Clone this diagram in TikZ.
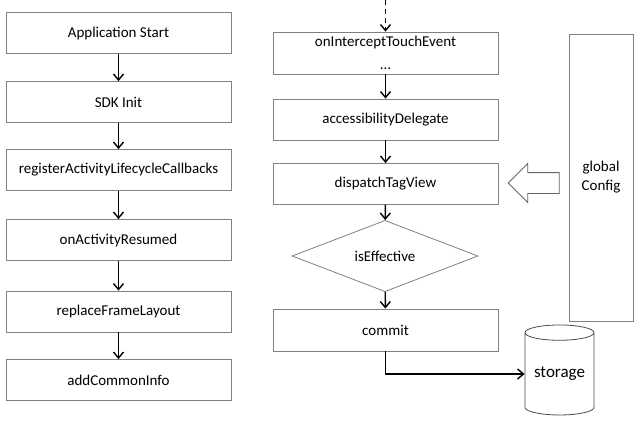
\documentclass[tikz,border=0pt]{standalone}
\usepackage{fontspec}
\setmainfont{Carlito}
\usepackage{tikz}
\usetikzlibrary{arrows.meta,shapes.geometric,shapes.arrows}
\tikzset{stepbox/.style={draw=black!50,line width=0.8pt,minimum width=225pt,minimum height=41pt,inner sep=0pt,font=\fontsize{15}{17}\selectfont}}
\tikzset{decide/.style={diamond,draw=black!50,line width=0.8pt,minimum width=186pt,minimum height=60pt,inner sep=0pt,font=\fontsize{15}{17}\selectfont}}
\tikzset{store/.style={cylinder,shape border rotate=90,draw=black!70,line width=0.8pt,aspect=0.3,minimum width=69pt,minimum height=90pt,inner sep=0pt,font=\fontsize{17}{19}\selectfont}}
\tikzset{config/.style={draw=black!50,line width=0.8pt,minimum width=64pt,minimum height=287pt,inner sep=0pt,align=center,font=\fontsize{15}{19}\selectfont}}
\tikzset{bigarrow/.style={single arrow,shape border rotate=180,draw=black!60,line width=0.8pt,minimum height=51pt,text height=0pt,text depth=0pt,inner xsep=0pt,inner ysep=10pt,single arrow head extend=9pt}}
\tikzset{flow/.style={-{Straight Barb[length=6pt,width=10pt]},line width=1.4pt}}

\begin{document}
\begin{tikzpicture}[x=1pt,y=-1pt]
\useasboundingbox (0,0) rectangle (640,421);
% left column
\node (start) at (118.5,33)[stepbox]{Application Start};
\node (sdk) at (118.5,102)[stepbox]{SDK Init};
\node (reg) at (118.5,170)[stepbox]{registerActivityLifecycleCallbacks};
\node (resumed) at (118.5,240)[stepbox]{onActivityResumed};
\node (replace) at (118.5,311.5)[stepbox]{replaceFrameLayout};
\node (common) at (118.5,380)[stepbox]{addCommonInfo};

\draw[flow] (start) -- (sdk);
\draw[flow] (sdk) -- (reg);
\draw[flow] (reg) -- (resumed);
\draw[flow] (resumed) -- (replace);
\draw[flow] (replace) -- (common);

% right column
\coordinate (top) at (385.5,0);
\node (touch) at (385.5,53)[stepbox,minimum height=42pt,align=center]{onInterceptTouchEvent\\[6pt]...};
\node (access) at (385.5,119.5)[stepbox]{accessibilityDelegate};
\node (tag) at (385.5,184)[stepbox]{dispatchTagView};
\node (effective) at (385,256)[decide]{isEffective};
\node (commit) at (385.5,330)[stepbox,minimum height=42pt]{commit};
\node (storage) at (559.5,374)[store]{storage};
\node (global) at (601,177.5)[config]{global\\Config};
\node (feed) at (539,183)[bigarrow]{};

\draw[flow,dash pattern=on 5pt off 4pt] (top) -- (touch);
\draw[flow] (touch) -- (access);
\draw[flow] (access) -- (tag);
\draw[flow] (tag) -- (effective);
\draw[flow] (effective) -- (commit);
\draw[flow] (commit.south) |- (storage.west);
\end{tikzpicture}
\end{document}
